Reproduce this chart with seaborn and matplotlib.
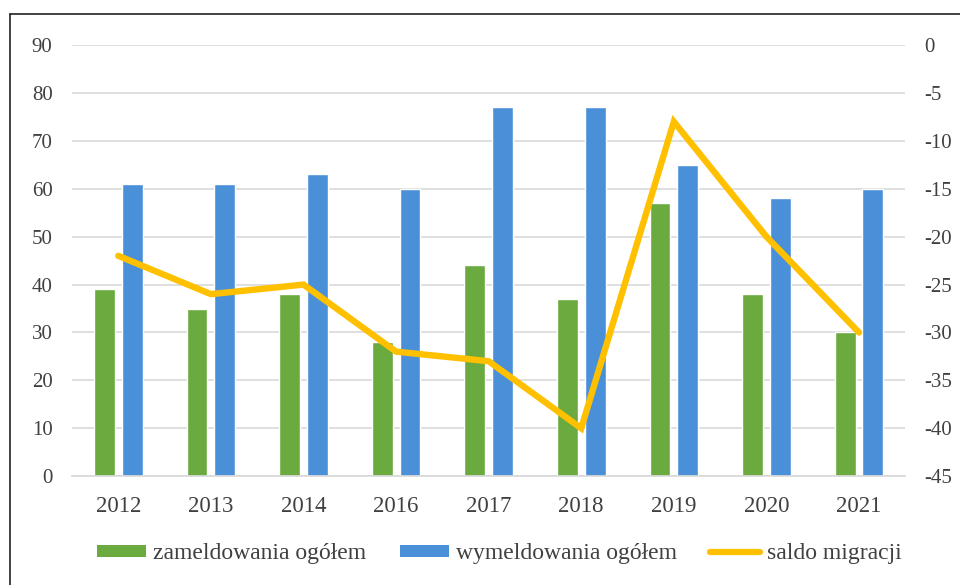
"""Migracja: zameldowania, wymeldowania i saldo migracji 2012-2021."""

import matplotlib
matplotlib.use("Agg")
import matplotlib.pyplot as plt
from matplotlib.lines import Line2D
from matplotlib.patches import Patch
import seaborn as sns
import pandas as pd

years = ["2012", "2013", "2014", "2016", "2017", "2018", "2019", "2020", "2021"]
zameldowania = [39, 35, 38, 28, 44, 37, 57, 38, 30]
wymeldowania = [61, 61, 63, 60, 77, 77, 65, 58, 60]
saldo = [-22, -26, -25, -32, -33, -40, -8, -20, -30]

series_names = ["zameldowania ogółem", "wymeldowania ogółem"]
left_ticks = list(range(0, 91, 10))
right_ticks = list(range(-45, 1, 5))

GREEN = "#6BAA3F"
BLUE = "#4A90D9"
GOLD = "#FFC000"
TEXT = "#404040"

sns.set_theme(style="white")
plt.rcParams["font.family"] = ["Liberation Serif", "DejaVu Serif"]
plt.rcParams["axes.unicode_minus"] = False

df = pd.DataFrame({
    "rok": years * 2,
    "wartosc": zameldowania + wymeldowania,
    "seria": [series_names[0]] * len(years) + [series_names[1]] * len(years),
})

fig = plt.figure(figsize=(9.6, 5.85), dpi=100)
ax = fig.add_axes([0.075, 0.186, 0.868, 0.737])

sns.barplot(data=df, x="rok", y="wartosc", hue="seria", order=years,
            hue_order=series_names, palette=[GREEN, BLUE], width=0.6,
            gap=0.25, saturation=1, ax=ax, legend=False)

ax.set_ylim(0, 90)
ax.set_yticks(left_ticks)
ax.set_xlim(-0.5, len(years) - 0.5)
ax.yaxis.grid(True, color="#D9D9D9", linewidth=1.2)
ax.set_axisbelow(True)
ax.set_xlabel("")
ax.set_ylabel("")
for side in ["top", "left", "right"]:
    ax.spines[side].set_visible(False)
ax.spines["bottom"].set_color("#D9D9D9")
ax.tick_params(axis="y", length=0, pad=14, labelsize=15, labelcolor=TEXT)
ax.tick_params(axis="x", length=0, pad=14, labelsize=16.5, labelcolor=TEXT)

ax2 = ax.twinx()
sns.pointplot(x=years, y=saldo, order=years, color=GOLD, markers="",
              linewidth=4.6, ax=ax2)
for line in ax2.lines:
    line.set_solid_joinstyle("miter")
ax2.set_ylim(-45, 0)
ax2.set_yticks(right_ticks)
ax2.set_xlim(-0.5, len(years) - 0.5)
ax2.set_ylabel("")
for side in ["top", "left", "right", "bottom"]:
    ax2.spines[side].set_visible(False)
ax2.tick_params(axis="y", length=0, pad=14, labelsize=15, labelcolor=TEXT)

handles = [
    Patch(facecolor=GREEN, edgecolor="none"),
    Patch(facecolor=BLUE, edgecolor="none"),
    Line2D([0], [0], color=GOLD, linewidth=4.5),
]
fig.legend(handles, series_names + ["saldo migracji"], loc="center",
           bbox_to_anchor=(0.52, 0.053), ncol=3, frameon=False,
           fontsize=17, labelcolor=TEXT, handlelength=2.1, handleheight=0.45,
           handletextpad=0.3, columnspacing=1.4)

# cropped chart frame: top and left edges only
fig.add_artist(Line2D([0.01, 1.0], [0.976, 0.976], color="#222222",
                      linewidth=1.2, transform=fig.transFigure))
fig.add_artist(Line2D([0.01, 0.01], [0.0, 0.976], color="#222222",
                      linewidth=1.2, transform=fig.transFigure))

fig.savefig("out.png", dpi=100, facecolor="white")
